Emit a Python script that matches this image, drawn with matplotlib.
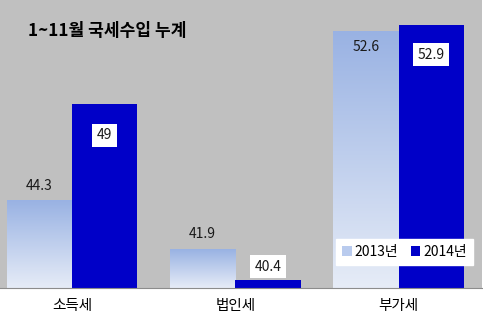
import numpy as np
import matplotlib.pyplot as plt
from matplotlib.patches import Patch
from matplotlib.colors import LinearSegmentedColormap

plt.rcParams['font.family'] = ['Noto Sans CJK KR', 'DejaVu Sans']

# 누계 국세수입 (조원)
categories = ['소득세', '법인세', '부가세']
years = ['2013년', '2014년']
rev_2013 = [44.3, 41.9, 52.6]
rev_2014 = [49, 40.4, 52.9]

W, H = 483, 322
fig = plt.figure(figsize=(W / 100, H / 100), dpi=100)
ax = fig.add_axes([0, 34 / H, 482 / W, 288 / H])
ax.set_facecolor('#C0C0C0')

x = np.arange(len(categories))
w = 0.40
ymin, ymax = 40, 54.12
xlim = (-0.44, 2.51)

bars13 = ax.bar(x - w / 2, rev_2013, w, color='none', zorder=2)
bars14 = ax.bar(x + w / 2, rev_2014, w, color='#0000C8', zorder=2)

# 2013 막대는 아래에서 위로 그라데이션
grad = LinearSegmentedColormap.from_list('g13', ['#E6ECF7', '#99B2E3'])
col = np.linspace(0, 1, 256).reshape(-1, 1)
for b in bars13:
    x0 = b.get_x()
    ax.imshow(col, cmap=grad, origin='lower', aspect='auto', zorder=1.5,
              extent=(x0, x0 + b.get_width(), ymin, b.get_height()))

ax.set_xlim(*xlim)
ax.set_ylim(ymin, ymax)

# 값 라벨 (픽셀 오프셋)
off13 = [14, 15, -16]
off14 = [-31, 13, -30]
for b, v, dy in zip(bars13, rev_2013, off13):
    ax.annotate(f'{v:g}', (b.get_x() + b.get_width() / 2, v), xytext=(0, dy),
                textcoords='offset pixels', ha='center', va='center',
                fontsize=10, color='#1a1a1a', zorder=4)
for b, v, dy in zip(bars14, rev_2014, off14):
    ax.annotate(f'{v:g}', (b.get_x() + b.get_width() / 2, v), xytext=(0, dy),
                textcoords='offset pixels', ha='center', va='center',
                fontsize=10, color='#1a1a1a', zorder=4,
                bbox=dict(boxstyle='square,pad=0.32', fc='white', ec='none'))

ax.set_xticks(x)
ax.set_xticklabels(categories, fontsize=10.5)
ax.tick_params(axis='x', length=0, pad=8)
ax.set_yticks([])
for s in ['top', 'left', 'right']:
    ax.spines[s].set_visible(False)
ax.spines['bottom'].set_color('#8C8C8C')

handles = [Patch(facecolor='#B9CBEE'), Patch(facecolor='#0000C8')]
leg = ax.legend(handles, years, ncol=2, loc='center',
                bbox_to_anchor=(404.5 / W, 1 - 252 / H), bbox_transform=fig.transFigure,
                frameon=True, fancybox=False, framealpha=1, edgecolor='white',
                fontsize=10, handlelength=0.7, handleheight=0.7,
                handletextpad=0.2, columnspacing=0.9, borderpad=0.45)
leg.set_zorder(5)

fig.text(28 / W, 1 - 31 / H, '1~11월 국세수입 누계', fontsize=12.3,
         fontweight='bold', ha='left', va='center')

fig.savefig('out.png', dpi=100)
